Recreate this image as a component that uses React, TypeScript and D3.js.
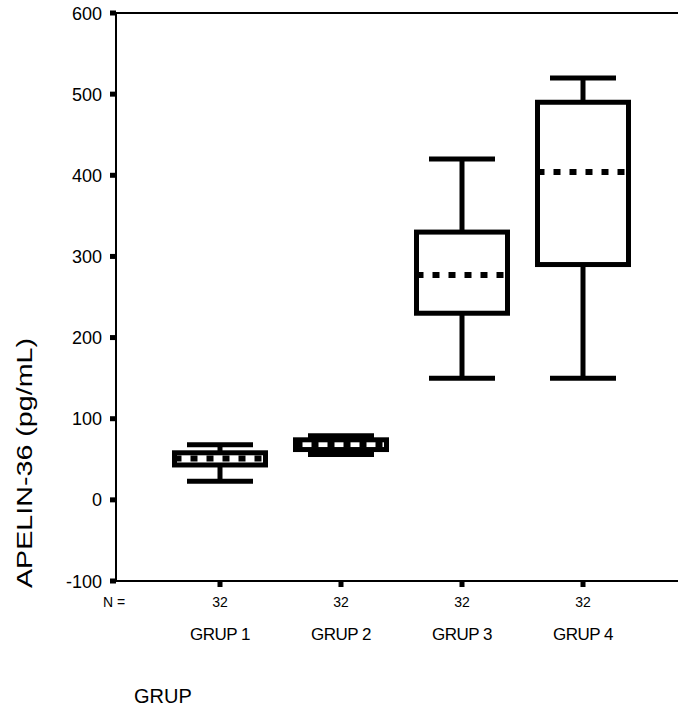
import React from 'react';
import * as d3 from 'd3';

const groups = ['GRUP 1', 'GRUP 2', 'GRUP 3', 'GRUP 4'];
const nCounts = [32, 32, 32, 32];
const minV = [23, 56, 150, 150];
const q1V = [43, 62, 230, 290];
const medianV = [51, 68, 277, 404];
const q3V = [58, 74, 330, 490];
const maxV = [68, 79, 420, 520];
const yTicks = [-100, 0, 100, 200, 300, 400, 500, 600];

const App = () => {
  const width = 678;
  const height = 718;
  const left = 116;
  const right = 678;

  const y = d3.scaleLinear().domain([-100, 600]).range([581, 13]);
  const x = d3.scalePoint<string>().domain(groups).range([220, 583]);

  const boxW = 91;
  const capW = 66;
  const sw = 5;
  const font = 'Arial, "Liberation Sans", sans-serif';

  return (
    <svg
      width={width}
      height={height}
      style={{ position: 'absolute', left: 0, top: 0, background: '#fff' }}
      fontFamily={font}
    >
      {/* frame */}
      <line x1={left} x2={right} y1={y(600)} y2={y(600)} stroke="#000" strokeWidth={2} />
      <line x1={left} x2={right} y1={y(-100)} y2={y(-100)} stroke="#000" strokeWidth={2} />
      <line x1={left} x2={left} y1={y(600)} y2={y(-100)} stroke="#000" strokeWidth={2} />

      {/* y ticks */}
      {yTicks.map((t) => (
        <g key={t}>
          <rect x={left - 6} y={y(t) - 2.5} width={6} height={5} fill="#000" />
          <text x={102} y={y(t) + 6.5} textAnchor="end" fontSize={18}>
            {t}
          </text>
        </g>
      ))}

      {/* x ticks, N row, group labels */}
      <text x={103} y={607} fontSize={14}>N =</text>
      {groups.map((g, i) => (
        <g key={g}>
          <rect x={x(g)! - 2.5} y={y(-100)} width={5} height={6} fill="#000" />
          <text x={x(g)!} y={607} textAnchor="middle" fontSize={14}>
            {nCounts[i]}
          </text>
          <text x={x(g)!} y={640} textAnchor="middle" fontSize={17} letterSpacing={-0.5}>
            {g}
          </text>
        </g>
      ))}

      {/* boxes */}
      {groups.map((g, i) => {
        const cx = x(g)!;
        return (
          <g key={'b' + g} stroke="#000" strokeWidth={sw} fill="none">
            <line x1={cx} x2={cx} y1={y(maxV[i])} y2={y(q3V[i])} />
            <line x1={cx} x2={cx} y1={y(q1V[i])} y2={y(minV[i])} />
            <line x1={cx - capW / 2} x2={cx + capW / 2} y1={y(maxV[i])} y2={y(maxV[i])} />
            <line x1={cx - capW / 2} x2={cx + capW / 2} y1={y(minV[i])} y2={y(minV[i])} />
            <rect
              x={cx - boxW / 2}
              y={y(q3V[i])}
              width={boxW}
              height={y(q1V[i]) - y(q3V[i])}
              fill="#fff"
            />
            <line
              x1={cx - boxW / 2}
              x2={cx + boxW / 2}
              y1={y(medianV[i])}
              y2={y(medianV[i])}
              strokeWidth={6}
              strokeDasharray="7,9"
            />
          </g>
        );
      })}

      {/* axis titles */}
      <text
        transform={`translate(32, 463) rotate(-90)`}
        textAnchor="middle"
        fontSize={22}
        textLength={250}
        lengthAdjust="spacingAndGlyphs"
      >
        APELIN-36 (pg/mL)
      </text>
      <text x={134} y={703} fontSize={20}>GRUP</text>
    </svg>
  );
};

export default App;
